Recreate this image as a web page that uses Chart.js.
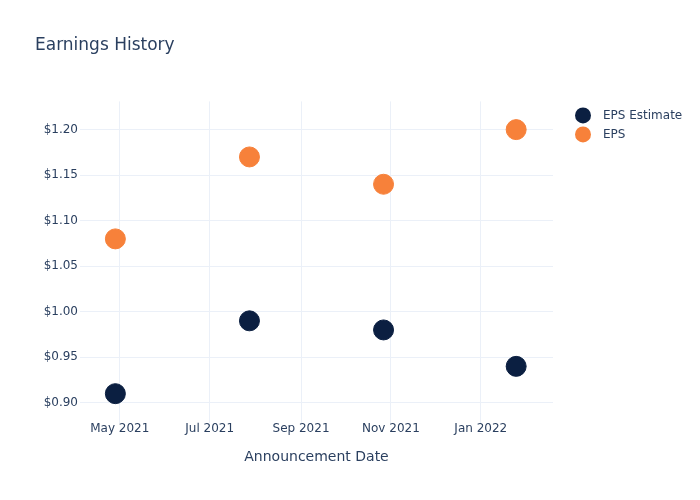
<!DOCTYPE html>
<html lang="en">
<head>
    <meta charset="UTF-8">
    <title>Earnings History</title>
    <script src="https://cdn.jsdelivr.net/npm/chart.js"></script>
    <style>
        body {
            margin: 0;
            padding: 0;
            background-color: #fff;
        }

        #wrap {
            width: 700px;
            height: 500px;
        }
    </style>
</head>
<body>
    <div id="wrap">
        <canvas id="epsChart"></canvas>
    </div>

    <script>
        // announcement dates
        var dates = ['2021-04-28', '2021-07-28', '2021-10-27', '2022-01-25'];
        var epsEstimate = [0.91, 0.99, 0.98, 0.94];
        var epsActual = [1.08, 1.17, 1.14, 1.20];

        // x-axis ticks
        var tickDates = ['2021-05-01', '2021-07-01', '2021-09-01', '2021-11-01', '2022-01-01'];
        var tickLabels = ['May 2021', 'Jul 2021', 'Sep 2021', 'Nov 2021', 'Jan 2022'];

        var textColor = '#2a3f5f';
        var gridColor = '#ebf0f8';

        function toPoints(values) {
            return values.map((v, i) => ({ x: Date.parse(dates[i]), y: v }));
        }

        // legend drawn at the right of the plot, plotly-like
        var sideLegend = {
            id: 'sideLegend',
            afterDraw(chart) {
                var ctx = chart.ctx;
                var x = chart.chartArea.right + 30;
                var y = chart.chartArea.top + 14;
                ctx.save();
                ctx.font = "12px 'DejaVu Sans', Verdana, sans-serif";
                ctx.textBaseline = 'middle';
                chart.data.datasets.forEach((ds, i) => {
                    var cy = y + i * 19;
                    ctx.fillStyle = ds.backgroundColor;
                    ctx.beginPath();
                    ctx.arc(x, cy, 8, 0, Math.PI * 2);
                    ctx.fill();
                    ctx.fillStyle = textColor;
                    ctx.fillText(ds.label, x + 20, cy);
                });
                ctx.restore();
            },
        };

        Chart.defaults.font.family = "'DejaVu Sans', Verdana, sans-serif";
        Chart.defaults.color = textColor;

        var chart = new Chart(document.getElementById('epsChart').getContext('2d'), {
            type: 'scatter',
            data: {
                datasets: [
                    {
                        label: 'EPS Estimate',
                        data: toPoints(epsEstimate),
                        backgroundColor: '#0b1f41',
                        borderColor: '#0b1f41',
                        pointRadius: 10,
                        pointHoverRadius: 10,
                    },
                    {
                        label: 'EPS',
                        data: toPoints(epsActual),
                        backgroundColor: '#f7813a',
                        borderColor: '#f7813a',
                        pointRadius: 10,
                        pointHoverRadius: 10,
                    },
                ],
            },
            plugins: [sideLegend],
            options: {
                responsive: true,
                maintainAspectRatio: false,
                animation: false,
                layout: {
                    padding: { top: 0, left: 35, right: 147, bottom: 30 },
                },
                plugins: {
                    title: {
                        display: true,
                        text: 'Earnings History',
                        align: 'start',
                        color: textColor,
                        font: { size: 17, weight: 'normal' },
                        padding: { top: 35, bottom: 46 },
                    },
                    legend: { display: false },
                    tooltip: { enabled: false },
                },
                scales: {
                    x: {
                        type: 'linear',
                        min: Date.parse('2021-04-04'),
                        max: Date.parse('2022-02-19'),
                        afterBuildTicks: axis => {
                            axis.ticks = tickDates.map(d => ({ value: Date.parse(d) }));
                        },
                        ticks: {
                            color: textColor,
                            font: { size: 12 },
                            maxRotation: 0,
                            padding: -1,
                            callback: value => {
                                var i = tickDates.findIndex(d => Date.parse(d) === value);
                                return i >= 0 ? tickLabels[i] : '';
                            },
                        },
                        grid: { color: gridColor, drawTicks: false },
                        border: { display: false },
                        title: {
                            display: true,
                            text: 'Announcement Date',
                            color: textColor,
                            font: { size: 14 },
                            padding: { top: 14 },
                        },
                    },
                    y: {
                        min: 0.878,
                        max: 1.231,
                        afterFit: axis => {
                            axis.width = 45;
                        },
                        afterBuildTicks: axis => {
                            axis.ticks = [0.90, 0.95, 1.00, 1.05, 1.10, 1.15, 1.20].map(v => ({ value: v }));
                        },
                        ticks: {
                            color: textColor,
                            font: { size: 12 },
                            padding: 2,
                            callback: value => '$' + value.toFixed(2),
                        },
                        grid: { color: gridColor, drawTicks: false },
                        border: { display: false },
                    },
                },
            },
        });
    </script>
</body>
</html>
